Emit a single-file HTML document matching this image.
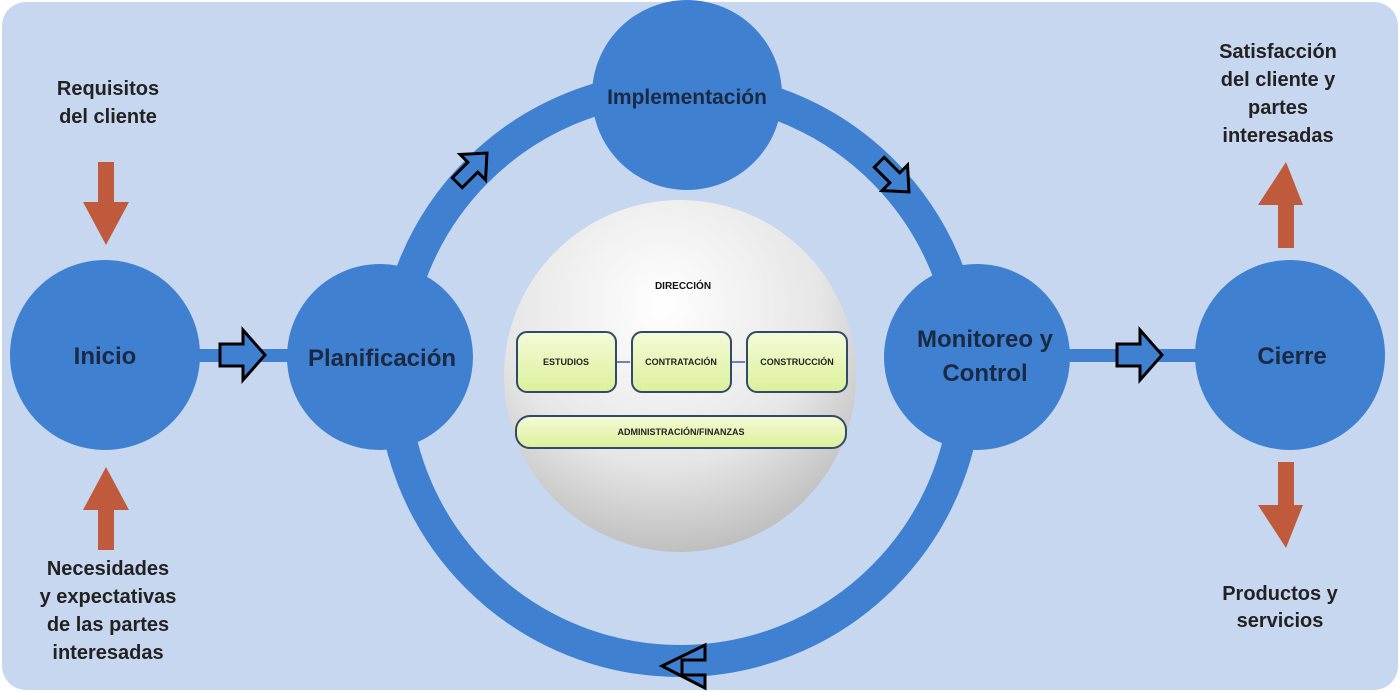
<!DOCTYPE html>
<html><head><meta charset="utf-8"><style>
body{margin:0;width:1400px;height:692px;background:#fff;overflow:hidden}
svg{display:block}
text{font-family:"Liberation Sans",Arial,sans-serif;font-weight:bold}
</style></head><body>
<svg width="1400" height="692" viewBox="0 0 1400 692">
<defs>
<radialGradient id="g" cx="0.45" cy="0.3" r="0.75">
<stop offset="0" stop-color="#ffffff"/><stop offset="0.6" stop-color="#e6e6e6"/><stop offset="1" stop-color="#b8b8b8"/>
</radialGradient>
<linearGradient id="b" x1="0" y1="0" x2="0" y2="1">
<stop offset="0" stop-color="#f4fbd8"/><stop offset="1" stop-color="#dcf09a"/>
</linearGradient>
</defs>
<rect x="2" y="2" width="1396" height="688" rx="24" fill="#c6d7ef"/>
<circle cx="680" cy="374" r="287" fill="none" stroke="#3f80d0" stroke-width="32"/>
<rect x="190" y="349" width="110" height="13" fill="#3f80d0"/>
<rect x="1060" y="349" width="140" height="13" fill="#3f80d0"/>
<circle cx="105" cy="355" r="95" fill="#3f80d0"/>
<circle cx="380" cy="357" r="93" fill="#3f80d0"/>
<circle cx="687" cy="95" r="95" fill="#3f80d0"/>
<circle cx="977" cy="357" r="93" fill="#3f80d0"/>
<circle cx="1290" cy="355" r="95" fill="#3f80d0"/>
<circle cx="680" cy="376" r="176" fill="url(#g)"/>
<text x="105" y="364" font-size="24" fill="#1a2a44" text-anchor="middle">Inicio</text>
<text x="382" y="366" font-size="24" fill="#1a2a44" text-anchor="middle">Planificación</text>
<text x="687" y="104" font-size="21" fill="#1a2a44" text-anchor="middle">Implementación</text>
<text x="985" y="347" font-size="24" fill="#1a2a44" text-anchor="middle">Monitoreo y</text>
<text x="985" y="381" font-size="24" fill="#1a2a44" text-anchor="middle">Control</text>
<text x="1292" y="364" font-size="24" fill="#1a2a44" text-anchor="middle">Cierre</text>
<!-- hollow arrows -->
<g fill="#3f80d0" stroke="#000" stroke-width="3" stroke-linejoin="miter">
<polygon points="220,344 243,344 243,330 265,355 243,380 243,366 220,366"/>
<polygon points="1117,344 1140,344 1140,330 1162,355 1140,380 1140,366 1117,366"/>
<polygon points="705,645 705,660 682,660 682,675 705,675 705,688 662,666" transform="rotate(0)"/>
<g transform="translate(470,170) rotate(-45)"><polygon points="-18,-7 4,-7 4,-18 24,0 4,18 4,7 -18,7"/></g>
<g transform="translate(892,175) rotate(45)"><polygon points="-18,-7 4,-7 4,-18 24,0 4,18 4,7 -18,7"/></g>
</g>
<!-- red arrows -->
<g fill="#c05a3c">
<polygon points="98,162 114,162 114,202 129,202 106,245 83,202 98,202"/>
<polygon points="98,550 114,550 114,510 129,510 106,467 83,510 98,510"/>
<polygon points="1278,248 1294,248 1294,205 1303,205 1286,162 1258,205 1278,205"/>
<polygon points="1278,462 1294,462 1294,505 1303,505 1286,548 1258,505 1278,505"/>
</g>
<g font-size="20" fill="#222" text-anchor="middle">
<text x="108" y="95">Requisitos</text><text x="108" y="123">del cliente</text>
<text x="108" y="575">Necesidades</text><text x="108" y="603">y expectativas</text><text x="108" y="631">de las partes</text><text x="108" y="659">interesadas</text>
<text x="1278" y="58">Satisfacción</text><text x="1278" y="86">del cliente y</text><text x="1278" y="114">partes</text><text x="1278" y="142">interesadas</text>
<text x="1280" y="600">Productos y</text><text x="1280" y="627">servicios</text>
</g>
<text x="683" y="289" font-size="10" fill="#111" text-anchor="middle">DIRECCIÓN</text>
<g stroke="#2f4a6a" stroke-width="2" fill="url(#b)">
<rect x="517" y="332" width="99" height="60" rx="10"/>
<rect x="632" y="332" width="99" height="60" rx="10"/>
<rect x="747" y="332" width="100" height="60" rx="10"/>
<rect x="516" y="416" width="330" height="32" rx="14"/>
</g>
<g stroke="#4a5a9a" stroke-width="1.5" fill="#4a5a9a">
<line x1="617" y1="362" x2="630" y2="362"/><line x1="732" y1="362" x2="745" y2="362"/>
</g>
<g font-size="9" fill="#222" text-anchor="middle">
<text x="566" y="365">ESTUDIOS</text>
<text x="681" y="365">CONTRATACIÓN</text>
<text x="797" y="365">CONSTRUCCIÓN</text>
<text x="681" y="435">ADMINISTRACIÓN/FINANZAS</text>
</g>
</svg>
</body></html>
